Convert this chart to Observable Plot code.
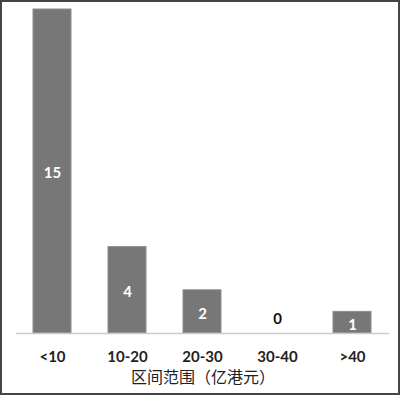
<!DOCTYPE html>
<html>
<head>
<meta charset="utf-8">
<script src="https://cdn.jsdelivr.net/npm/d3@7"></script>
<script src="https://cdn.jsdelivr.net/npm/@observablehq/plot@0.6"></script>
<style>
  html, body { margin: 0; padding: 0; background: #fff; }
  #wrap { width: 400px; height: 395px; box-sizing: border-box; border: 2px solid #444; overflow: hidden; }
  #wrap svg { display: block; }
</style>
</head>
<body>
<div id="wrap"></div>
<script>
const categories = ["<10", "10-20", "20-30", "30-40", ">40"];
const values = [15, 4, 2, 0, 1];
const xTitle = "区间范围（亿港元）";

const data = categories.map((c, i) => ({category: c, value: values[i]}));
const latin = "Lato, 'Open Sans', sans-serif";

const chart = Plot.plot({
  width: 396,
  height: 391,
  marginTop: 7,
  marginBottom: 60,
  marginLeft: 14,
  marginRight: 9,
  style: {fontFamily: latin, background: "#fff"},
  x: {domain: categories, paddingInner: 0.49, paddingOuter: 0.2316, label: null},
  y: {domain: [0, 15], axis: null},
  marks: [
    Plot.barY(data, {x: "category", y: "value", fill: "#777", stroke: "#8e8e8e", strokeWidth: 1}),
    Plot.ruleY([0], {stroke: "#ccc", strokeWidth: 1.5}),
    Plot.text(data.filter(d => d.value > 0), {
      x: "category", y: d => d.value / 2, text: d => String(d.value),
      fill: "#fff", fontSize: 15, fontWeight: "bold", dy: 2
    }),
    Plot.text(data.filter(d => d.value === 0), {
      x: "category", y: "value", text: d => String(d.value),
      fill: "#111", fontSize: 15, fontWeight: "bold", dy: -14
    }),
    Plot.axisX({tickSize: 0, tickPadding: 18, fontSize: 15, fontWeight: "bold", label: null, fill: "#222"}),
    Plot.text([xTitle], {
      frameAnchor: "bottom", dy: 49, text: d => d,
      fontFamily: "'Noto Sans CJK SC', sans-serif", fontSize: 16, fill: "#222",
      letterSpacing: "0.5px"
    })
  ]
});
document.getElementById("wrap").appendChild(chart);
</script>
</body>
</html>
